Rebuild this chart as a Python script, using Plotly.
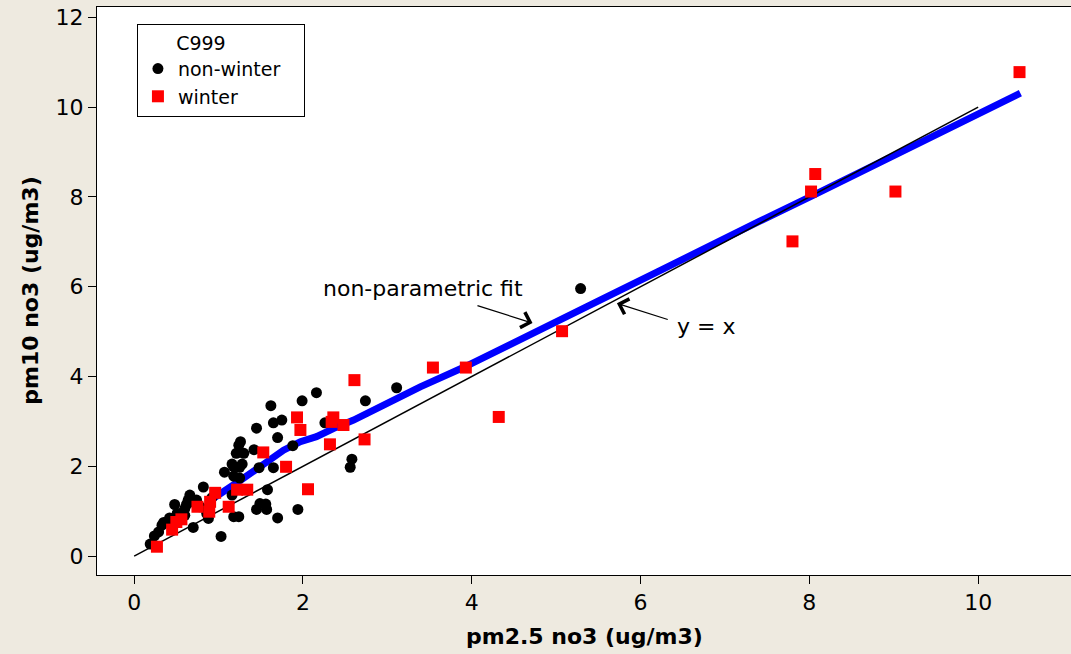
import plotly.graph_objects as go

# pm2.5 vs pm10 nitrate, split by season
nonwinter_x = [5.29, 3.11, 2.74, 2.16, 1.99, 1.62, 1.75, 1.65, 2.26, 1.45, 1.70, 1.88, 1.42,
               1.26, 1.24, 1.21, 1.30, 1.16, 1.28, 1.18, 1.25, 1.48, 1.65, 1.07, 1.18, 1.25,
               2.58, 2.56, 0.82, 1.58, 1.16, 1.49, 1.56, 1.45, 1.57, 1.70, 1.94, 1.03, 1.18,
               1.24, 0.88, 0.70, 0.66, 0.48, 0.64, 0.55, 0.60, 0.68, 0.39, 0.35, 0.29, 0.24,
               0.19, 0.74, 0.78, 0.86, 0.60, 0.33, 0.51, 0.92, 0.62, 0.42]
nonwinter_y = [5.96, 3.75, 3.46, 3.64, 3.46, 3.35, 3.03, 2.97, 2.97, 2.85, 2.64, 2.46, 2.37,
               2.55, 2.47, 2.29, 2.29, 2.05, 2.05, 1.99, 1.98, 1.97, 1.97, 1.87, 1.78, 1.74,
               2.16, 1.98, 1.54, 1.48, 1.36, 1.17, 1.16, 1.04, 1.04, 0.85, 1.04, 0.44, 0.88,
               0.88, 0.84, 0.64, 1.36, 1.15, 1.25, 0.95, 1.06, 1.21, 0.76, 0.75, 0.54, 0.45,
               0.27, 1.25, 1.10, 0.95, 0.91, 0.69, 0.95, 1.30, 1.15, 0.85]

winter_x = [0.27, 0.45, 0.50, 0.56, 0.75, 0.89, 0.90, 0.96, 1.12, 1.22, 1.34, 1.53, 1.80,
            2.06, 1.93, 1.97, 2.32, 2.34, 2.36, 2.48, 2.73, 2.61, 3.54, 3.93, 4.32, 5.07,
            7.80, 8.02, 8.07, 9.02, 10.49]
winter_y = [0.21, 0.59, 0.76, 0.82, 1.10, 0.99, 1.21, 1.41, 1.10, 1.48, 1.48, 2.31, 1.99,
            1.49, 3.09, 2.81, 2.49, 2.99, 3.09, 2.92, 2.60, 3.92, 4.20, 4.20, 3.10, 5.01,
            7.01, 8.12, 8.51, 8.12, 10.78]

# smoothed (non-parametric) fit through all points
fit_x = [0.94, 1.10, 1.26, 1.49, 1.77, 1.97, 2.16, 2.36, 2.60, 2.95, 3.39, 3.90, 4.40,
         4.90, 5.52, 6.20, 6.71, 7.40, 8.05, 9.00, 10.00, 10.50]
fit_y = [1.29, 1.48, 1.69, 1.99, 2.36, 2.55, 2.66, 2.84, 3.03, 3.36, 3.77, 4.20, 4.65,
         5.12, 5.70, 6.33, 6.82, 7.45, 8.04, 8.93, 9.86, 10.31]

# 1:1 reference line
ref_x = [0, 10]
ref_y = [0, 10]

x_ticks = [0, 2, 4, 6, 8, 10]
y_ticks = [0, 2, 4, 6, 8, 10, 12]

FONT = "DejaVu Sans"
BG = "#EEEAE0"
PAD = "&nbsp;" * 3

fig = go.Figure()
fig.add_trace(go.Scatter(x=fit_x, y=fit_y, mode="lines", line=dict(color="#0000FF", width=7),
                         showlegend=False, hoverinfo="skip"))
fig.add_trace(go.Scatter(x=ref_x, y=ref_y, mode="lines", line=dict(color="black", width=1.5),
                         showlegend=False, hoverinfo="skip"))
fig.add_trace(go.Scatter(x=nonwinter_x, y=nonwinter_y, mode="markers",
                         name="non-winter" + PAD,
                         marker=dict(symbol="circle", size=11, color="black")))
fig.add_trace(go.Scatter(x=winter_x, y=winter_y, mode="markers", name="winter",
                         marker=dict(symbol="square", size=12, color="#FF0000")))

fig.update_layout(
    width=1071, height=654,
    margin=dict(l=97, r=0, t=7, b=79),
    paper_bgcolor=BG, plot_bgcolor="white",
    font=dict(family=FONT, color="black", size=18),
    legend=dict(
        x=0.041, y=0.970, xanchor="left", yanchor="top",
        bgcolor="white", bordercolor="black", borderwidth=1,
        title=dict(text="&nbsp;" * 6 + "C999", font=dict(size=19)),
        font=dict(size=19),
        tracegroupgap=0,
    ),
    xaxis=dict(range=[-0.44, 11.10], tickvals=x_ticks, ticks="outside", ticklen=8,
               tickcolor="black", showline=True, linecolor="black", linewidth=1,
               mirror=True, showgrid=False, zeroline=False,
               tickfont=dict(size=22, family=FONT)),
    yaxis=dict(range=[-0.42, 12.23], tickvals=y_ticks, ticks="outside", ticklen=8,
               tickcolor="black", showline=True, linecolor="black", linewidth=1,
               showgrid=False, zeroline=False,
               tickfont=dict(size=22, family=FONT)),
    annotations=[
        dict(text="<b>pm2.5 no3 (ug/m3)</b>", xref="paper", yref="paper", x=0.5, y=-0.109,
             xanchor="center", yanchor="middle", showarrow=False, font=dict(size=22)),
        dict(text="<b>pm10 no3 (ug/m3)</b>", xref="paper", yref="paper", x=-0.069, y=0.5,
             xanchor="center", yanchor="middle", textangle=-90, showarrow=False,
             font=dict(size=22)),
        dict(text="non-parametric fit", x=3.42, y=5.97, xref="x", yref="y",
             showarrow=False, font=dict(size=22)),
        dict(text="y = x", x=6.77, y=5.12, xref="x", yref="y",
             showarrow=False, font=dict(size=22)),
        # arrows
        dict(x=4.72, y=5.19, ax=4.05, ay=5.59, xref="x", yref="y", axref="x", ayref="y",
             text="", showarrow=True, arrowhead=4, arrowsize=2.6, arrowwidth=1.2,
             arrowcolor="black"),
        dict(x=5.72, y=5.63, ax=6.34, ay=5.26, xref="x", yref="y", axref="x", ayref="y",
             text="", showarrow=True, arrowhead=4, arrowsize=2.6, arrowwidth=1.2,
             arrowcolor="black"),
    ],
)

fig.write_html("out.html")
